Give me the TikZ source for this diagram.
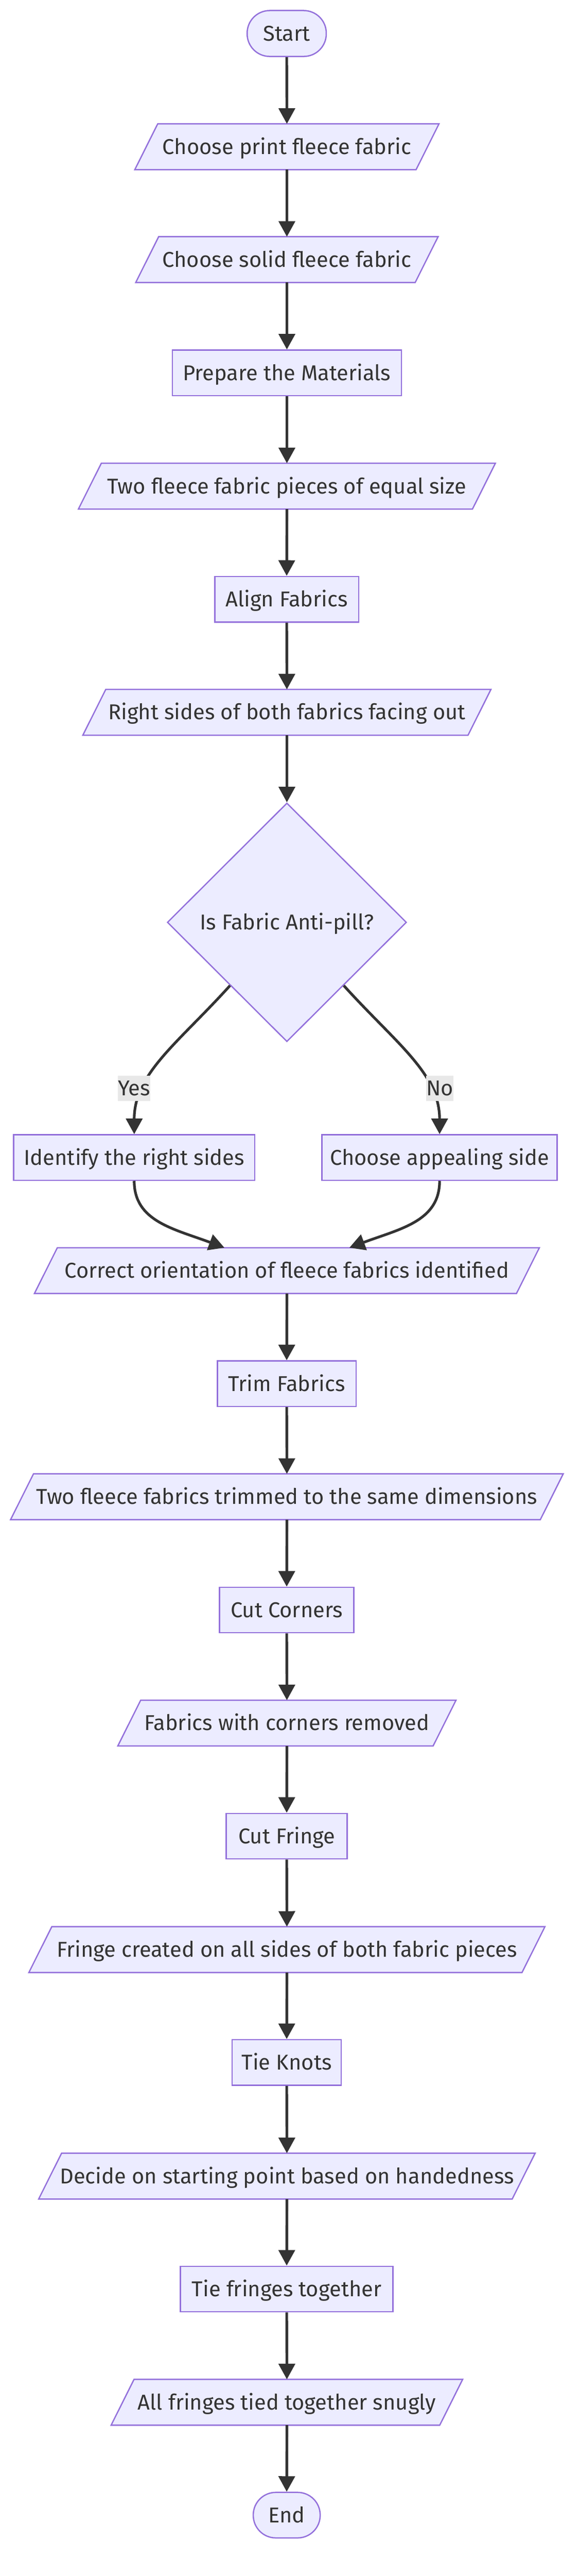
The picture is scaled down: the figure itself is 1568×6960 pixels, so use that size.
\documentclass[tikz,border=0pt]{standalone}
\usepackage{fontspec}
\setmainfont{Fira Sans}
\usetikzlibrary{shapes.geometric,arrows.meta,backgrounds}
\definecolor{nodefill}{HTML}{ECECFF}
\definecolor{nodeline}{HTML}{9370DB}
\definecolor{txt}{HTML}{333333}
\definecolor{edgec}{HTML}{333333}
\definecolor{lblbg}{HTML}{E8E8E8}
\newlength\calw
\begin{document}
\settowidth{\calw}{\fontsize{10pt}{12pt}\selectfont Two fleece fabrics trimmed to the same dimensions}%
\pgfmathsetmacro\fs{6775/\calw}%
\pgfmathsetmacro\fth{0.93*\fs}%
\pgfmathsetmacro\ftd{0.24*\fs}%
\begin{tikzpicture}[x=0.5pt,y=-0.5pt]
\tikzset{
  base/.style={font=\fontsize{\fs pt}{\fs pt}\selectfont, text=txt, text height=\fth pt, text depth=\ftd pt, inner sep=0pt, align=center},
  stepbox/.style={base, draw=nodeline, fill=nodefill, line width=1.75pt, minimum height=61.5pt},
  term/.style={stepbox, rounded corners=30.5pt},
  iobox/.style={base, minimum height=61.5pt},
  iofill/.style={draw=nodeline, fill=nodefill, line width=1.75pt, line join=miter},
  decision/.style={base, shape=diamond, draw=nodeline, fill=nodefill, line width=1.75pt, minimum width=323.5pt, minimum height=322.5pt},
  edge/.style={draw=edgec, line width=3.6pt, -{Triangle[length=21pt,width=22pt]}},
  elabel/.style={base, fill=lblbg, minimum height=33.5pt}
}
\useasboundingbox (0,0) rectangle (1568,6960);

% nodes
\node[term, minimum width=107pt, minimum height=62pt] (start) at (775.5,90.5) {Start};
\node[iobox, minimum width=380pt] (p1) at (776,396.5) {Choose print fleece fabric};
\node[iobox, minimum width=377.5pt] (p2) at (776,701.5) {Choose solid fleece fabric};
\node[stepbox, minimum width=310pt] (r1) at (776,1007.5) {Prepare the Materials};
\node[iobox, minimum width=532.5pt] (p3) at (776,1313.5) {Two fleece fabric pieces of equal size};
\node[stepbox, minimum width=194.5pt] (r2) at (775.5,1619) {Align Fabrics};
\node[iobox, minimum width=520.5pt] (p4) at (776,1924.5) {Right sides of both fabrics facing out};
\node[decision] (dia) at (776,2492) {Is Fabric Anti-pill?};
\node[stepbox, minimum width=326pt] (r3) at (363,3127.5) {Identify the right sides};
\node[stepbox, minimum width=318pt] (r4) at (1189,3127.5) {Choose appealing side};
\node[iobox, minimum width=651.5pt] (p5) at (776,3433) {Correct orientation of fleece fabrics identified};
\node[stepbox, minimum width=187.5pt] (r5) at (775.5,3738.5) {Trim Fabrics};
\node[iobox, minimum width=716pt] (p6) at (776,4044) {Two fleece fabrics trimmed to the same dimensions};
\node[stepbox, minimum width=181.5pt] (r6) at (775.5,4350) {Cut Corners};
\node[iobox, minimum width=426pt] (p7) at (776,4655.5) {Fabrics with corners removed};
\node[stepbox, minimum width=163.5pt] (r7) at (775.5,4961) {Cut Fringe};
\node[iobox, minimum width=666.5pt] (p8) at (776,5267.5) {Fringe created on all sides of both fabric pieces};
\node[stepbox, minimum width=147.5pt] (r8) at (775.5,5572.5) {Tie Knots};
\node[iobox, minimum width=640pt] (p9) at (776,5879.5) {Decide on starting point based on handedness};
\node[stepbox, minimum width=287.5pt] (r9) at (775.5,6184.5) {Tie fringes together};
\node[iobox, minimum width=444pt] (p10) at (776,6490.5) {All fringes tied together snugly};
\node[term, minimum width=90.5pt] (end) at (775.5,6795.5) {End};

% straight connectors
\draw[edge] (start.south) -- (p1.north);
\draw[edge] (p1.south) -- (p2.north);
\draw[edge] (p2.south) -- (r1.north);
\draw[edge] (r1.south) -- (p3.north);
\draw[edge] (p3.south) -- (r2.north);
\draw[edge] (r2.south) -- (p4.north);
\draw[edge] (p4.south) -- (dia.north);
% decision branches
\draw[edge] (dia.-132) .. controls (480,2820) and (363,2900) .. (r3.north);
\draw[edge] (dia.-48) .. controls (1072,2820) and (1189,2900) .. (r4.north);
% merge
\draw[edge] (r3.south) .. controls (363,3300) and (470,3320) .. ([xshift=-84.5pt]p5.north);
\draw[edge] (r4.south) .. controls (1189,3300) and (1082,3320) .. ([xshift=84.5pt]p5.north);
% rest
\draw[edge] (p5.south) -- (r5.north);
\draw[edge] (r5.south) -- (p6.north);
\draw[edge] (p6.south) -- (r6.north);
\draw[edge] (r6.south) -- (p7.north);
\draw[edge] (p7.south) -- (r7.north);
\draw[edge] (r7.south) -- (p8.north);
\draw[edge] (p8.south) -- (r8.north);
\draw[edge] (r8.south) -- (p9.north);
\draw[edge] (p9.south) -- (r9.north);
\draw[edge] (r9.south) -- (p10.north);
\draw[edge] (p10.south) -- (end.north);

% edge labels
\node[elabel, minimum width=40.5pt] (lyes) at (362.5,2940.5) {Yes};
\node[elabel, minimum width=34.5pt] (lno) at (1189.5,2940.5) {No};

% parallelogram outlines behind the texts
\begin{scope}[on background layer]
  \fill[white] (0,0) rectangle (1568,6960);
  \foreach \n in {p1,p2,p3,p4,p5,p6,p7,p8,p9,p10}{
    \draw[iofill] ([xshift=-15.5pt]\n.south west) -- ([xshift=15.5pt]\n.north west)
      -- ([xshift=15.5pt]\n.north east) -- ([xshift=-15.5pt]\n.south east) -- cycle;
  }
\end{scope}
\end{tikzpicture}
\end{document}
